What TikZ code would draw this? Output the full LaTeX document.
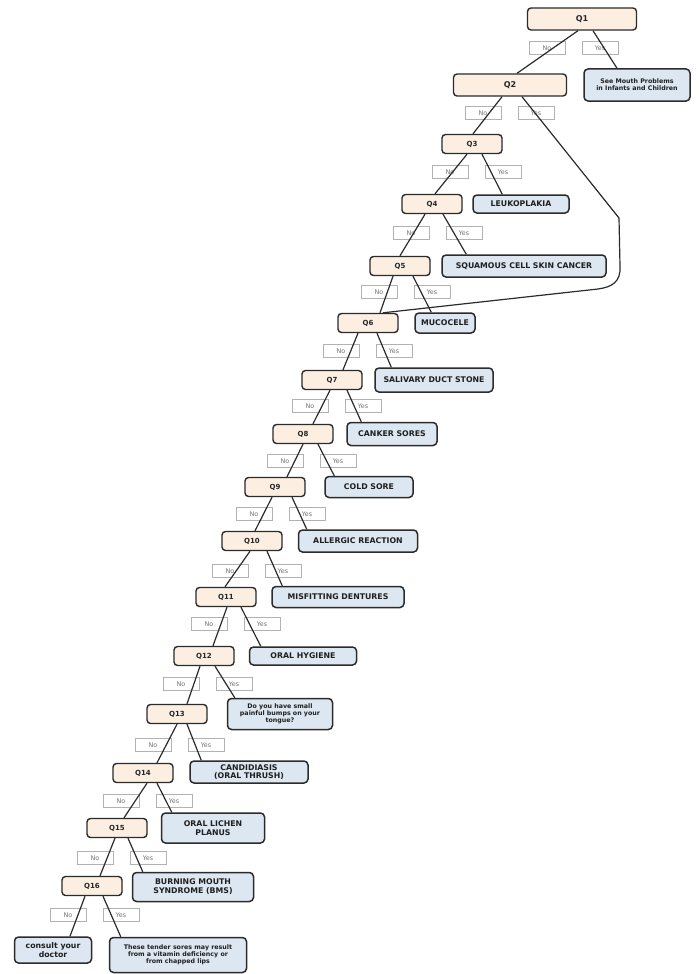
\documentclass[tikz,border=0pt]{standalone}
\usepackage{fontspec}
\setmainfont{DejaVu Sans}
\definecolor{qfill}{HTML}{FCEFE1}
\definecolor{afill}{HTML}{DDE7F1}
\definecolor{edgec}{HTML}{2B2B2B}
\begin{document}
\begin{tikzpicture}[x=1pt,y=-1pt,
  qn/.style={draw=edgec, line width=1.4pt, rounded corners=3.5pt, fill=qfill,
     minimum width=60pt, minimum height=19pt, inner sep=1pt,
     font=\fontsize{7}{8}\selectfont\bfseries, text=black!85},
  an/.style={draw=edgec, line width=1.5pt, rounded corners=4pt, fill=afill,
     inner sep=1.5pt, align=center, font=\fontsize{7.8}{8.8}\selectfont\bfseries, text=black!88},
  sm/.style={font=\fontsize{6.3}{7.2}\selectfont\bfseries},
  lb/.style={draw=black!30, line width=0.6pt, fill=white, minimum width=36pt,
     minimum height=13pt, inner sep=0pt, font=\fontsize{6.4}{7}\selectfont, text=black!55},
  ln/.style={draw=edgec, line width=1.2pt}]
\useasboundingbox[fill=white] (0,0) rectangle (699,974);

% ---- No / Yes labels
\foreach \n/\x/\y in {1/547/48, 2/483/113, 3/450/172, 4/411/233, 5/379/292, 6/341/351,
  7/310/406, 8/285/461, 9/254/514, 10/230/571, 11/209/624, 12/181/684, 13/153/745,
  14/121/801, 15/95/858, 16/68/915}{
  \node[lb] (no\n) at (\x,\y) {No};
  \node[lb] (yes\n) at (\x+53,\y) {Yes};
}

% ---- question nodes
\node[qn, minimum width=109pt, minimum height=22pt, font=\fontsize{8}{9}\selectfont\bfseries] (Q1) at (582,19) {Q1};
\node[qn, minimum width=113pt, minimum height=22pt, font=\fontsize{8}{9}\selectfont\bfseries] (Q2) at (510,85) {Q2};
\node[qn] (Q3) at (472,144) {Q3};
\node[qn] (Q4) at (432,204) {Q4};
\node[qn] (Q5) at (400,266) {Q5};
\node[qn] (Q6) at (368,323) {Q6};
\node[qn] (Q7) at (332,380) {Q7};
\node[qn] (Q8) at (303,434) {Q8};
\node[qn] (Q9) at (275,487) {Q9};
\node[qn] (Q10) at (252,541) {Q10};
\node[qn] (Q11) at (226,597) {Q11};
\node[qn] (Q12) at (204,656) {Q12};
\node[qn] (Q13) at (177,714) {Q13};
\node[qn] (Q14) at (143,773) {Q14};
\node[qn] (Q15) at (117,828) {Q15};
\node[qn] (Q16) at (92,886) {Q16};

% ---- answer nodes
\node[an, sm, minimum width=106pt, minimum height=32pt] (A1) at (637,85) {See Mouth Problems\\in Infants and Children};
\node[an, minimum width=96pt, minimum height=18pt] (A3) at (521,204) {LEUKOPLAKIA};
\node[an, minimum width=164pt, minimum height=22pt] (A4) at (524,266) {SQUAMOUS CELL SKIN CANCER};
\node[an, minimum width=60pt, minimum height=20pt] (A5) at (445,323) {MUCOCELE};
\node[an, minimum width=118pt, minimum height=24pt] (A6) at (434,380) {SALIVARY DUCT STONE};
\node[an, minimum width=90pt, minimum height=23pt] (A7) at (392,434) {CANKER SORES};
\node[an, minimum width=88pt, minimum height=21pt] (A8) at (369,487) {COLD SORE};
\node[an, minimum width=119pt, minimum height=22pt] (A9) at (358,541) {ALLERGIC REACTION};
\node[an, minimum width=132pt, minimum height=21pt] (A10) at (338,597) {MISFITTING DENTURES};
\node[an, minimum width=107pt, minimum height=18pt] (A11) at (303,656) {ORAL HYGIENE};
\node[an, sm, minimum width=105pt, minimum height=31pt] (A12) at (280,714) {Do you have small\\painful bumps on your\\tongue?};
\node[an, minimum width=118pt, minimum height=22pt, font=\fontsize{7.8}{7.8}\selectfont\bfseries] (A13) at (249,772) {CANDIDIASIS\\(ORAL THRUSH)};
\node[an, minimum width=103pt, minimum height=30pt] (A14) at (213,828) {ORAL LICHEN\\PLANUS};
\node[an, minimum width=121pt, minimum height=29pt] (A15) at (193,887) {BURNING MOUTH\\SYNDROME (BMS)};
\node[an, minimum width=77pt, minimum height=26pt] (A16n) at (53,950) {consult your\\doctor};
\node[an, sm, minimum width=137pt, minimum height=35pt] (A16y) at (178,955) {These tender sores may result\\from a vitamin deficiency or\\from chapped lips};

% ---- connectors: No branches
\draw[ln] ([xshift=-4pt]Q1.south) -- ([xshift=7pt]Q2.north);
\draw[ln] ([xshift=-8pt]Q2.south) -- ([xshift=1pt]Q3.north);
\draw[ln] ([xshift=-5pt]Q3.south) -- ([xshift=3pt]Q4.north);
\draw[ln] ([xshift=-7pt]Q4.south) -- ([xshift=0pt]Q5.north);
\draw[ln] ([xshift=-7pt]Q5.south) -- ([xshift=12pt]Q6.north);
\draw[ln] ([xshift=-10pt]Q6.south) -- ([xshift=11pt]Q7.north);
\draw[ln] ([xshift=-2pt]Q7.south) -- ([xshift=10pt]Q8.north);
\draw[ln] ([xshift=0pt]Q8.south) -- ([xshift=12pt]Q9.north);
\draw[ln] ([xshift=-3pt]Q9.south) -- ([xshift=3pt]Q10.north);
\draw[ln] ([xshift=-2pt]Q10.south) -- ([xshift=-1pt]Q11.north);
\draw[ln] ([xshift=1pt]Q11.south) -- ([xshift=9pt]Q12.north);
\draw[ln] ([xshift=-4pt]Q12.south) -- ([xshift=10pt]Q13.north);
\draw[ln] ([xshift=0pt]Q13.south) -- ([xshift=14pt]Q14.north);
\draw[ln] ([xshift=4pt]Q14.south) -- ([xshift=7pt]Q15.north);
\draw[ln] ([xshift=-2pt]Q15.south) -- ([xshift=8pt]Q16.north);
\draw[ln] ([xshift=-7pt]Q16.south) -- ([xshift=17pt]A16n.north);

% ---- connectors: Yes branches
\draw[ln] ([xshift=11pt]Q1.south) -- ([xshift=-20pt]A1.north);
\coordinate (w1) at (619,218);
\coordinate (w2) at (620,266);
\coordinate (w3) at (598,289);
\draw[ln] ([xshift=12pt]Q2.south) -- (w1) -- (w2) .. controls (621,282) and (612,287) .. (w3) -- ([xshift=15pt]Q6.north);
\draw[ln] ([xshift=10pt]Q3.south) -- ([xshift=30pt]A3.north west);
\draw[ln] ([xshift=11pt]Q4.south) -- ([xshift=25pt]A4.north west);
\draw[ln] ([xshift=13pt]Q5.south) -- ([xshift=17pt]A5.north west);
\draw[ln] ([xshift=9pt]Q6.south) -- ([xshift=17pt]A6.north west);
\draw[ln] ([xshift=15pt]Q7.south) -- ([xshift=15pt]A7.north west);
\draw[ln] ([xshift=15pt]Q8.south) -- ([xshift=10pt]A8.north west);
\draw[ln] ([xshift=17pt]Q9.south) -- ([xshift=9pt]A9.north west);
\draw[ln] ([xshift=15pt]Q10.south) -- ([xshift=11pt]A10.north west);
\draw[ln] ([xshift=15pt]Q11.south) -- ([xshift=12pt]A11.north west);
\draw[ln] ([xshift=11pt]Q12.south) -- ([xshift=8pt]A12.north west);
\draw[ln] ([xshift=10pt]Q13.south) -- ([xshift=12pt]A13.north west);
\draw[ln] ([xshift=14pt]Q14.south) -- ([xshift=11pt]A14.north west);
\draw[ln] ([xshift=11pt]Q15.south) -- ([xshift=11pt]A15.north west);
\draw[ln] ([xshift=11pt]Q16.south) -- ([xshift=12pt]A16y.north west);
\end{tikzpicture}
\end{document}
